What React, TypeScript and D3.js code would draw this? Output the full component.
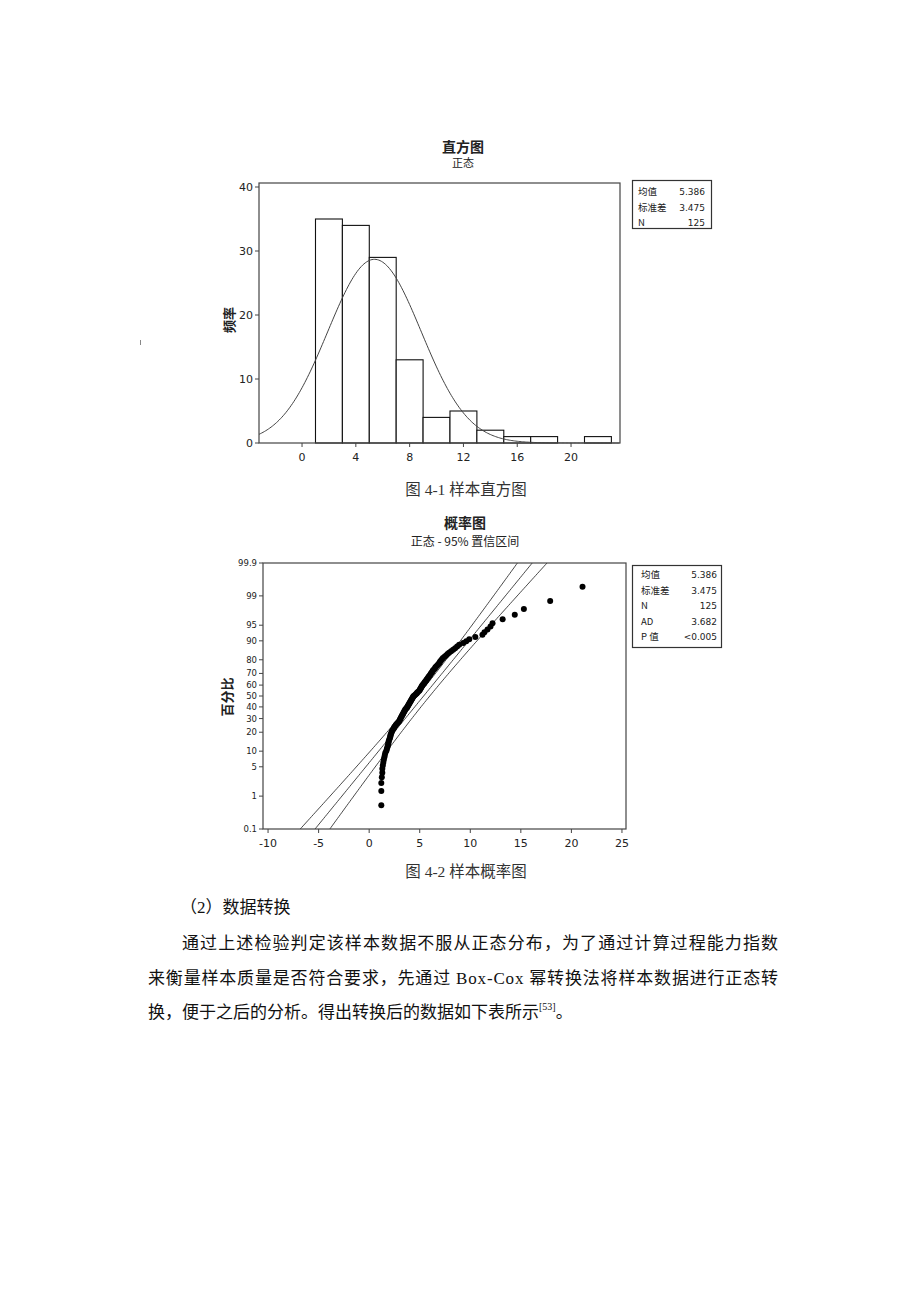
import React from 'react';
import * as d3 from 'd3';

// ---------- data ----------
const histBinEdges = [1, 3, 5, 7, 9, 11, 13, 15, 17, 19, 21, 23];
const histCounts = [35, 34, 29, 13, 4, 5, 2, 1, 1, 0, 1];
const histXTicks = [0, 4, 8, 12, 16, 20];
const histYTicks = [0, 10, 20, 30, 40];

const sampleMean = 5.386;
const sampleSd = 3.475;
const sampleN = 125;

const statLabels = ['均值', '标准差', 'N'];
const statValues = ['5.386', '3.475', '125'];
const probStatLabels = ['均值', '标准差', 'N', 'AD', 'P 值'];
const probStatValues = ['5.386', '3.475', '125', '3.682', '<0.005'];

// sorted sample values
const sampleValues = [
  1.2, 1.2, 1.2, 1.25, 1.3, 1.3, 1.35, 1.4, 1.45, 1.5, 1.55, 1.6, 1.7, 1.75, 1.8, 1.85, 1.9, 1.9,
  1.95, 2.0, 2.05, 2.1, 2.1, 2.15, 2.2, 2.25, 2.3, 2.4, 2.45, 2.5, 2.6, 2.65, 2.75, 2.85, 2.95,
  3.0, 3.05, 3.1, 3.15, 3.2, 3.25, 3.3, 3.35, 3.4, 3.45, 3.5, 3.55, 3.6, 3.7, 3.75, 3.8, 3.85,
  3.9, 3.95, 4.0, 4.05, 4.1, 4.15, 4.2, 4.25, 4.3, 4.35, 4.4, 4.5, 4.6, 4.7, 4.75, 4.85, 4.95,
  5.0, 5.05, 5.1, 5.15, 5.2, 5.25, 5.3, 5.4, 5.45, 5.5, 5.6, 5.65, 5.7, 5.8, 5.85, 5.9, 6.0,
  6.05, 6.1, 6.2, 6.25, 6.3, 6.4, 6.5, 6.55, 6.65, 6.75, 6.85, 6.95,
  7.0, 7.1, 7.2, 7.3, 7.45, 7.6, 7.75, 7.9, 8.1, 8.3, 8.5, 8.7, 8.9,
  9.3, 9.6, 9.9, 10.5,
  11.2, 11.4, 11.7, 12.0, 12.2,
  13.2, 14.4, 15.3, 17.9, 21.1,
];
const probXTicks = [-10, -5, 0, 5, 10, 15, 20, 25];
const probYTicks = [0.1, 1, 5, 10, 20, 30, 40, 50, 60, 70, 80, 90, 95, 99, 99.9];

// ---------- helpers ----------
function invNorm(p: number): number {
  const a = [-39.69683028665376, 220.9460984245205, -275.9285104469687, 138.357751867269, -30.66479806614716, 2.506628277459239];
  const b = [-54.47609879822406, 161.5858368580409, -155.6989798598866, 66.80131188771972, -13.28068155288572];
  const c = [-0.007784894002430293, -0.3223964580411365, -2.400758277161838, -2.549732539343734, 4.374664141464968, 2.938163982698783];
  const d = [0.007784695709041462, 0.3224671290700398, 2.445134137142996, 3.754408661907416];
  const pl = 0.02425;
  let q, r;
  if (p < pl) {
    q = Math.sqrt(-2 * Math.log(p));
    return (((((c[0] * q + c[1]) * q + c[2]) * q + c[3]) * q + c[4]) * q + c[5]) / ((((d[0] * q + d[1]) * q + d[2]) * q + d[3]) * q + 1);
  } else if (p <= 1 - pl) {
    q = p - 0.5;
    r = q * q;
    return ((((((a[0] * r + a[1]) * r + a[2]) * r + a[3]) * r + a[4]) * r + a[5]) * q) / (((((b[0] * r + b[1]) * r + b[2]) * r + b[3]) * r + b[4]) * r + 1);
  } else {
    q = Math.sqrt(-2 * Math.log(1 - p));
    return -(((((c[0] * q + c[1]) * q + c[2]) * q + c[3]) * q + c[4]) * q + c[5]) / ((((d[0] * q + d[1]) * q + d[2]) * q + d[3]) * q + 1);
  }
}

const tickFont = "'DejaVu Sans', 'Noto Sans CJK SC', sans-serif";
const cjk = "'Noto Sans CJK SC', sans-serif";
const serif = "'Liberation Serif', 'Noto Sans CJK SC', serif";
const ink = '#222';

export default function App() {
  // ----- histogram -----
  const hx = d3.scaleLinear().domain([-3.2, 23.64]).range([259, 620]);
  const hy = d3.scaleLinear().domain([0, 40]).range([443, 187]);
  const hTop = 183;
  const bins = histCounts.map((c, i) => ({ x0: histBinEdges[i], x1: histBinEdges[i + 1], c }));
  const binW = histBinEdges[1] - histBinEdges[0];
  const curvePts = d3.range(-3.2, 23.64, 0.1).map((x) => {
    const z = (x - sampleMean) / sampleSd;
    const y = (sampleN * binW * Math.exp(-0.5 * z * z)) / (sampleSd * Math.sqrt(2 * Math.PI));
    return [x, y] as [number, number];
  });
  const curveLine = d3.line<[number, number]>().x((d) => hx(d[0])).y((d) => hy(d[1])).curve(d3.curveLinear);

  // ----- probability plot -----
  const px = d3.scaleLinear().domain([-10.5, 25.4]).range([263, 626]);
  const zTop = invNorm(0.999);
  const py = d3.scaleLinear().domain([-zTop, zTop]).range([829, 563]);
  const pTop = 563, pBot = 829;
  const zGrid = d3.range(-3.3, 3.31, 0.05);
  const fitLine = d3.line<number>().x((z) => px(sampleMean + sampleSd * z)).y((z) => py(z));
  const band = (sign: number) =>
    d3.line<number>()
      .x((z) => {
        const se = sampleSd * Math.sqrt(1 / sampleN + (z * z) / (2 * sampleN));
        return px(sampleMean + sampleSd * z + sign * 1.96 * se);
      })
      .y((z) => py(z));
  const pts = sampleValues.map((v, i) => ({ v, z: invNorm((i + 1 - 0.3) / (sampleN + 0.4)) }));

  return (
    <svg width={920} height={1302} style={{ position: 'absolute', left: 0, top: 0, background: '#fff' }}>
      <defs>
        <clipPath id="pclip">
          <rect x={263} y={pTop} width={626 - 263} height={pBot - pTop} />
        </clipPath>
      </defs>
      <rect x={0} y={0} width={920} height={1302} fill="#fff" />

      {/* stray scan mark */}
      <line x1={140.5} y1={340} x2={140.5} y2={345} stroke="#888" strokeWidth={1} />

      {/* ===== Histogram ===== */}
      <text x={463} y={152} textAnchor="middle" fontFamily={cjk} fontWeight={700} fontSize={14} fill={ink}>直方图</text>
      <text x={463} y={167} textAnchor="middle" fontFamily={cjk} fontSize={11} fill={ink}>正态</text>
      <text transform={`translate(234,320) rotate(-90)`} textAnchor="middle" fontFamily={cjk} fontWeight={700} fontSize={13} fill={ink}>频率</text>

      {bins.map((b, i) =>
        b.c > 0 ? (
          <rect key={i} x={hx(b.x0)} y={hy(b.c)} width={hx(b.x1) - hx(b.x0)} height={hy(0) - hy(b.c)} fill="#fff" stroke="#111" strokeWidth={1.1} />
        ) : null
      )}
      <path d={curveLine(curvePts) || ''} fill="none" stroke="#444" strokeWidth={1} />
      <rect x={259} y={hTop} width={620 - 259} height={443 - hTop} fill="none" stroke="#444" strokeWidth={1.2} />
      {histYTicks.map((t) => (
        <g key={t}>
          <line x1={255} x2={259} y1={hy(t)} y2={hy(t)} stroke="#444" />
          <text x={253} y={hy(t) + 4} textAnchor="end" fontFamily={tickFont} fontSize={11} fill={ink}>{t}</text>
        </g>
      ))}
      {histXTicks.map((t) => (
        <g key={t}>
          <line x1={hx(t)} x2={hx(t)} y1={443} y2={447} stroke="#444" />
          <text x={hx(t)} y={461} textAnchor="middle" fontFamily={tickFont} fontSize={11} fill={ink}>{t}</text>
        </g>
      ))}
      <rect x={632.5} y={180.5} width={79} height={48} fill="#fff" stroke="#333" strokeWidth={1.2} />
      {statLabels.map((l, i) => (
        <g key={l}>
          <text x={638} y={195 + i * 15.5} fontFamily={cjk} fontSize={9.5} fill={ink}>{l}</text>
          <text x={705} y={195 + i * 15.5} textAnchor="end" fontFamily={tickFont} fontSize={9} fill={ink}>{statValues[i]}</text>
        </g>
      ))}

      <text x={466} y={495} textAnchor="middle" fontFamily={serif} fontSize={15.5} fill="#333">图 4-1 样本直方图</text>

      {/* ===== Probability plot ===== */}
      <text x={465} y={528} textAnchor="middle" fontFamily={cjk} fontWeight={700} fontSize={14} fill={ink}>概率图</text>
      <text x={465} y={546} textAnchor="middle" fontFamily={cjk} fontSize={12} fill={ink}>正态 - 95% 置信区间</text>
      <text transform={`translate(232,697) rotate(-90)`} textAnchor="middle" fontFamily={cjk} fontWeight={700} fontSize={13} fill={ink}>百分比</text>

      <g clipPath="url(#pclip)">
        <path d={band(-1)(zGrid) || ''} fill="none" stroke="#333" strokeWidth={0.9} />
        <path d={fitLine(zGrid) || ''} fill="none" stroke="#333" strokeWidth={0.9} />
        <path d={band(1)(zGrid) || ''} fill="none" stroke="#333" strokeWidth={0.9} />
      </g>
      {pts.map((p, i) => (
        <circle key={i} cx={px(p.v)} cy={py(p.z)} r={3} fill="#000" />
      ))}
      <rect x={263} y={pTop} width={626 - 263} height={pBot - pTop} fill="none" stroke="#444" strokeWidth={1.2} />
      {probYTicks.map((t) => (
        <g key={t}>
          <line x1={259} x2={263} y1={py(invNorm(t / 100))} y2={py(invNorm(t / 100))} stroke="#444" />
          <text x={257} y={py(invNorm(t / 100)) + 3} textAnchor="end" fontFamily={tickFont} fontSize={8.5} fill={ink}>{t}</text>
        </g>
      ))}
      {probXTicks.map((t) => (
        <g key={t}>
          <line x1={px(t)} x2={px(t)} y1={pBot} y2={pBot + 4} stroke="#444" />
          <text x={px(t)} y={847} textAnchor="middle" fontFamily={tickFont} fontSize={11} fill={ink}>{t}</text>
        </g>
      ))}
      <rect x={632.5} y={565.5} width={89} height={82} fill="#fff" stroke="#333" strokeWidth={1.2} />
      {probStatLabels.map((l, i) => (
        <g key={l}>
          <text x={641} y={578 + i * 15.5} fontFamily={cjk} fontSize={9.5} fill={ink}>{l}</text>
          <text x={717} y={578 + i * 15.5} textAnchor="end" fontFamily={tickFont} fontSize={9} fill={ink}>{probStatValues[i]}</text>
        </g>
      ))}

      <text x={466} y={877} textAnchor="middle" fontFamily={serif} fontSize={15.5} fill="#333">图 4-2 样本概率图</text>

      {/* ===== Body text ===== */}
      <text x={180} y={913} fontFamily={serif} fontSize={17} fill="#111">（2）数据转换</text>
      <text x={182} y={949} fontFamily={serif} fontSize={17} fill="#111" textLength={596} lengthAdjust="spacing">通过上述检验判定该样本数据不服从正态分布，为了通过计算过程能力指数</text>
      <text x={148} y={984} fontFamily={serif} fontSize={17} fill="#111" textLength={630} lengthAdjust="spacing">来衡量样本质量是否符合要求，先通过 Box-Cox 幂转换法将样本数据进行正态转</text>
      <text x={148} y={1018} fontFamily={serif} fontSize={17} fill="#111">
        换，便于之后的分析。得出转换后的数据如下表所示
        <tspan fontSize={10} dy={-8}>[53]</tspan>
        <tspan dy={8}>。</tspan>
      </text>
    </svg>
  );
}
